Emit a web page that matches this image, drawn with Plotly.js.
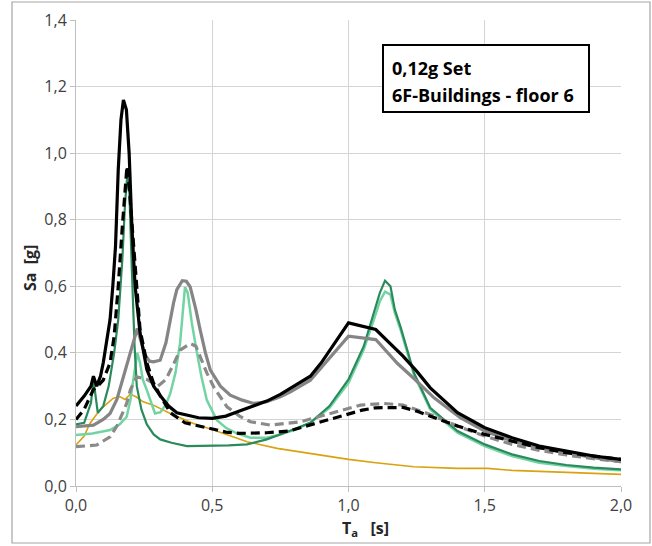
<!DOCTYPE html>
<html>
<head>
<meta charset="utf-8">
<script src="https://cdn.plot.ly/plotly-3.0.1.min.js"></script>
<style>html,body{margin:0;padding:0;background:#fff;} #chart{width:652px;height:546px;}</style>
</head>
<body>
<div id="chart"></div>
<script>
// Black solid
const xBlack = [0, 0.03, 0.055, 0.064, 0.076, 0.09, 0.1, 0.115, 0.125, 0.135, 0.145, 0.155, 0.165, 0.174, 0.185, 0.195, 0.205, 0.217, 0.235, 0.26, 0.285, 0.31, 0.34, 0.37, 0.4, 0.45, 0.5, 0.55, 0.6, 0.65, 0.7, 0.75, 0.8, 0.86, 0.9, 0.95, 1.0, 1.1, 1.15, 1.2, 1.25, 1.3, 1.4, 1.5, 1.6, 1.7, 1.8, 1.9, 2.0];
const yBlack = [0.24, 0.27, 0.30, 0.33, 0.30, 0.33, 0.37, 0.44, 0.50, 0.60, 0.72, 0.95, 1.10, 1.16, 1.13, 1.00, 0.78, 0.60, 0.46, 0.35, 0.30, 0.27, 0.24, 0.22, 0.215, 0.205, 0.203, 0.21, 0.225, 0.24, 0.255, 0.275, 0.30, 0.33, 0.37, 0.43, 0.49, 0.47, 0.43, 0.39, 0.345, 0.295, 0.22, 0.175, 0.145, 0.12, 0.105, 0.09, 0.08];
// Black dashed
const xBlackDash = [0, 0.03, 0.064, 0.08, 0.1, 0.125, 0.14, 0.155, 0.17, 0.18, 0.187, 0.195, 0.205, 0.215, 0.235, 0.26, 0.284, 0.31, 0.346, 0.4, 0.45, 0.5, 0.55, 0.6, 0.65, 0.7, 0.78, 0.86, 0.93, 1.0, 1.05, 1.1, 1.15, 1.2, 1.25, 1.3, 1.4, 1.5, 1.6, 1.7, 1.8, 1.9, 2.0];
const yBlackDash = [0.20, 0.23, 0.29, 0.30, 0.318, 0.37, 0.45, 0.60, 0.78, 0.90, 0.96, 0.90, 0.80, 0.68, 0.47, 0.37, 0.31, 0.27, 0.22, 0.19, 0.18, 0.17, 0.162, 0.158, 0.158, 0.16, 0.165, 0.183, 0.20, 0.215, 0.228, 0.235, 0.236, 0.236, 0.225, 0.21, 0.18, 0.155, 0.135, 0.115, 0.10, 0.09, 0.08];
// Gray solid
const xGray = [0, 0.064, 0.1, 0.125, 0.15, 0.174, 0.199, 0.215, 0.225, 0.24, 0.254, 0.27, 0.284, 0.309, 0.33, 0.358, 0.37, 0.39, 0.405, 0.419, 0.44, 0.456, 0.475, 0.493, 0.53, 0.566, 0.61, 0.652, 0.7, 0.75, 0.787, 0.86, 0.934, 1.0, 1.1, 1.18, 1.24, 1.314, 1.41, 1.5, 1.6, 1.7, 1.8, 1.9, 2.0];
const yGray = [0.178, 0.183, 0.20, 0.218, 0.26, 0.328, 0.40, 0.45, 0.473, 0.43, 0.393, 0.375, 0.373, 0.378, 0.43, 0.55, 0.59, 0.617, 0.615, 0.598, 0.53, 0.468, 0.40, 0.348, 0.30, 0.273, 0.258, 0.248, 0.253, 0.268, 0.283, 0.318, 0.388, 0.45, 0.44, 0.368, 0.323, 0.265, 0.205, 0.165, 0.135, 0.115, 0.10, 0.085, 0.073];
// Gray dashed
const xGrayDash = [0, 0.076, 0.125, 0.15, 0.186, 0.2, 0.223, 0.26, 0.3, 0.33, 0.36, 0.382, 0.419, 0.44, 0.456, 0.48, 0.505, 0.554, 0.6, 0.64, 0.713, 0.824, 0.934, 1.044, 1.13, 1.2, 1.3, 1.4, 1.5, 1.6, 1.7, 1.8, 1.9, 2.0];
const yGrayDash = [0.118, 0.123, 0.148, 0.18, 0.248, 0.29, 0.328, 0.32, 0.30, 0.32, 0.37, 0.408, 0.428, 0.42, 0.388, 0.34, 0.298, 0.238, 0.21, 0.193, 0.183, 0.193, 0.218, 0.243, 0.248, 0.243, 0.215, 0.18, 0.15, 0.125, 0.107, 0.093, 0.082, 0.073];
// Dark green
const xGreen = [0, 0.03, 0.055, 0.064, 0.072, 0.08, 0.1, 0.12, 0.14, 0.155, 0.17, 0.18, 0.188, 0.196, 0.205, 0.215, 0.223, 0.24, 0.26, 0.285, 0.309, 0.35, 0.407, 0.5, 0.56, 0.628, 0.7, 0.75, 0.8, 0.86, 0.93, 1.0, 1.056, 1.093, 1.115, 1.134, 1.154, 1.17, 1.191, 1.24, 1.3, 1.4, 1.5, 1.6, 1.7, 1.8, 1.9, 2.0];
const yGreen = [0.185, 0.19, 0.25, 0.32, 0.27, 0.22, 0.24, 0.30, 0.40, 0.50, 0.68, 0.85, 0.93, 0.88, 0.65, 0.42, 0.30, 0.23, 0.185, 0.155, 0.14, 0.13, 0.12, 0.12, 0.122, 0.125, 0.14, 0.155, 0.17, 0.19, 0.24, 0.32, 0.42, 0.52, 0.58, 0.617, 0.60, 0.53, 0.478, 0.34, 0.235, 0.165, 0.125, 0.095, 0.075, 0.063, 0.055, 0.05];
// Light green
const xLight = [0, 0.06, 0.125, 0.16, 0.186, 0.2, 0.21, 0.218, 0.225, 0.235, 0.245, 0.26, 0.275, 0.29, 0.31, 0.33, 0.346, 0.365, 0.382, 0.393, 0.40, 0.41, 0.425, 0.444, 0.46, 0.48, 0.517, 0.55, 0.59, 0.64, 0.7, 0.75, 0.8, 0.86, 0.93, 1.0, 1.056, 1.093, 1.115, 1.134, 1.154, 1.17, 1.191, 1.24, 1.3, 1.4, 1.5, 1.6, 1.7, 1.8, 1.9, 2.0];
const yLight = [0.153, 0.158, 0.168, 0.185, 0.208, 0.26, 0.318, 0.37, 0.40, 0.37, 0.32, 0.288, 0.25, 0.218, 0.222, 0.245, 0.278, 0.34, 0.43, 0.54, 0.598, 0.58, 0.49, 0.40, 0.33, 0.258, 0.198, 0.175, 0.158, 0.145, 0.145, 0.155, 0.168, 0.19, 0.235, 0.31, 0.41, 0.50, 0.555, 0.584, 0.575, 0.52, 0.47, 0.335, 0.23, 0.16, 0.12, 0.09, 0.07, 0.06, 0.052, 0.047];
// Orange
const xOrange = [0, 0.03, 0.051, 0.075, 0.1, 0.137, 0.162, 0.18, 0.199, 0.22, 0.247, 0.284, 0.346, 0.431, 0.505, 0.628, 0.738, 0.86, 1.0, 1.1, 1.24, 1.4, 1.51, 1.6, 1.8, 2.0];
const yOrange = [0.123, 0.15, 0.188, 0.215, 0.238, 0.264, 0.268, 0.26, 0.276, 0.268, 0.253, 0.243, 0.218, 0.188, 0.168, 0.133, 0.113, 0.098, 0.08, 0.07, 0.058, 0.053, 0.053, 0.047, 0.04, 0.035];

const yTicks = [0, 0.2, 0.4, 0.6, 0.8, 1.0, 1.2, 1.4];
const xTicks = [0, 0.5, 1.0, 1.5, 2.0];

const traces = [
  {x: xOrange, y: yOrange, mode: 'lines', line: {color: '#d9a20f', width: 1.6}},
  {x: xLight, y: yLight, mode: 'lines', line: {color: '#72d4a2', width: 2.5}},
  {x: xGreen, y: yGreen, mode: 'lines', line: {color: '#2b8a5c', width: 2.2}},
  {x: xGrayDash, y: yGrayDash, mode: 'lines', line: {color: '#8a8a8a', width: 3.2, dash: '9px,5px'}},
  {x: xGray, y: yGray, mode: 'lines', line: {color: '#858585', width: 3.2}},
  {x: xBlackDash, y: yBlackDash, mode: 'lines', line: {color: '#000000', width: 3.2, dash: '9px,5px'}},
  {x: xBlack, y: yBlack, mode: 'lines', line: {color: '#000000', width: 3.2}}
];

const W = 545, H = 466, L = 76, T = 20;
function px(v){ return (v - L) / W; }
function py(v){ return (T + H - v) / H; }

const layout = {
  width: 652, height: 546,
  margin: {l: 76, r: 31, t: 20, b: 60},
  paper_bgcolor: '#ffffff', plot_bgcolor: '#ffffff',
  showlegend: false,
  separators: ', ',
  font: {family: 'Open Sans, sans-serif', color: '#404040', size: 16},
  xaxis: {
    range: [0, 2.0], tickvals: xTicks, tickformat: '.1f',
    showgrid: true, gridcolor: '#d4d4d4', gridwidth: 1,
    zeroline: false, showline: true, linecolor: '#bfbfbf', linewidth: 1,
    ticks: 'outside', ticklen: 5, tickcolor: '#bfbfbf',
    tickfont: {size: 16, color: '#404040'}, fixedrange: true
  },
  yaxis: {
    range: [0, 1.4], tickvals: yTicks, tickformat: '.1f',
    showgrid: true, gridcolor: '#d4d4d4', gridwidth: 1,
    zeroline: false, showline: true, linecolor: '#bfbfbf', linewidth: 1,
    ticks: 'outside', ticklen: 5, tickcolor: '#bfbfbf',
    tickfont: {size: 16, color: '#404040'}, fixedrange: true
  },
  shapes: [
    {type: 'rect', xref: 'paper', yref: 'paper', x0: px(12), x1: px(650), y0: py(543), y1: py(2), line: {color: '#a6a6a6', width: 1.2}, fillcolor: 'rgba(0,0,0,0)', layer: 'below'},
    {type: 'rect', xref: 'paper', yref: 'paper', x0: px(383), x1: px(589), y0: py(112), y1: py(45), line: {color: '#000000', width: 2}, fillcolor: '#ffffff', layer: 'above'}
  ],
  annotations: [
    {xref: 'paper', yref: 'paper', x: px(390), y: py(68), xanchor: 'left', yanchor: 'middle', showarrow: false,
     text: '<b>0,12g Set</b>', font: {family: 'Open Sans, sans-serif', size: 18, color: '#000000'}},
    {xref: 'paper', yref: 'paper', x: px(390), y: py(95), xanchor: 'left', yanchor: 'middle', showarrow: false,
     text: '<b>6F-Buildings - floor 6</b>', font: {family: 'Open Sans, sans-serif', size: 18, color: '#000000'}},
    {xref: 'paper', yref: 'paper', x: px(30), y: py(268), xanchor: 'center', yanchor: 'middle', showarrow: false, textangle: -90,
     text: '<b>Sa  [g]</b>', font: {family: 'Open Sans, sans-serif', size: 16, color: '#262626'}},
    {xref: 'paper', yref: 'paper', x: px(340), y: py(528), xanchor: 'left', yanchor: 'middle', showarrow: false,
     text: '<b>T<sub>a</sub>   [s]</b>', font: {family: 'Open Sans, sans-serif', size: 16, color: '#262626'}}
  ]
};

Plotly.newPlot('chart', traces, layout, {displayModeBar: false, staticPlot: true});
</script>
</body>
</html>
